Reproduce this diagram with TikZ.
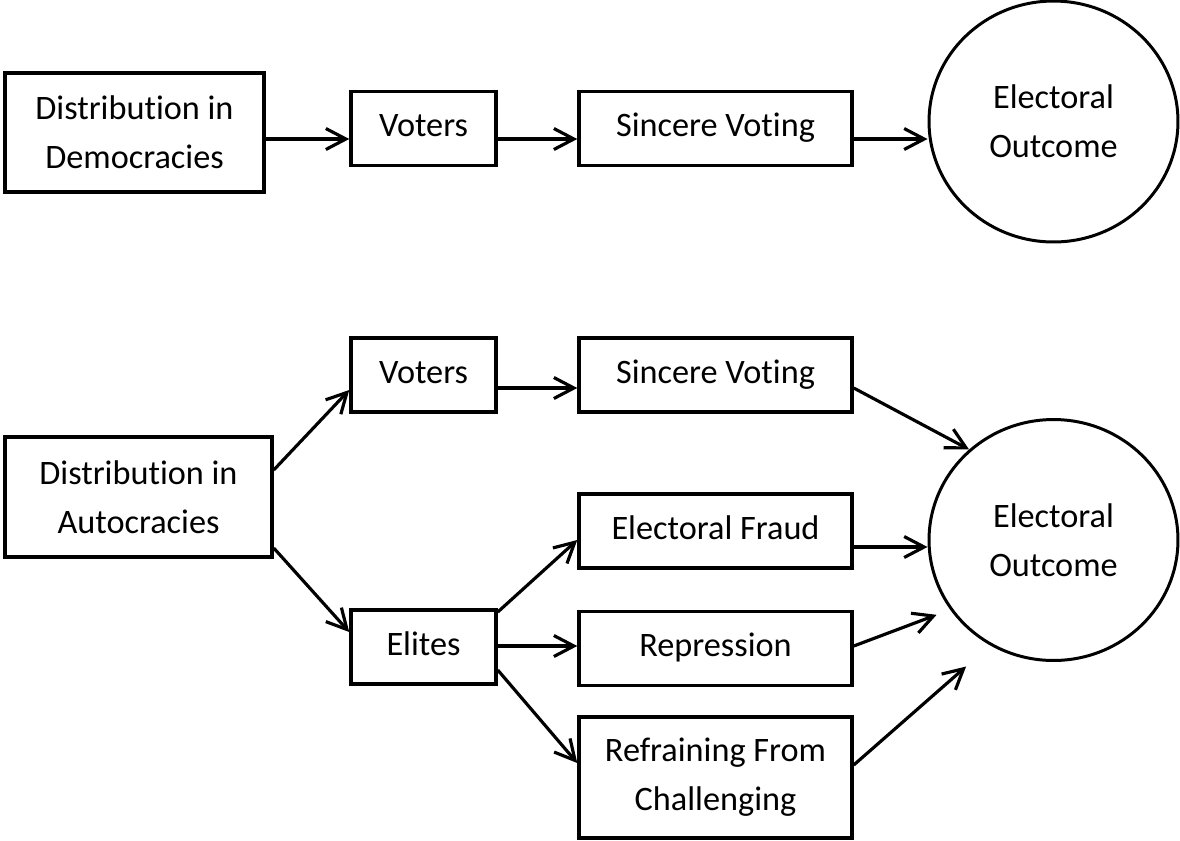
\documentclass[tikz,border=0pt]{standalone}
\usepackage{fontspec}
\setmainfont[RawFeature=-liga]{Carlito}
\usetikzlibrary{arrows.meta,shapes.geometric}

\begin{document}
\begin{tikzpicture}[x=0.02cm,y=-0.02cm,
	box/.style={draw,line width=2pt,align=center,inner sep=0pt,minimum height=1.48cm,font=\fontsize{19.5}{28}\selectfont},
	line/.style={box,text height=14.6pt,text depth=5pt},
	outcome/.style={draw,ellipse,line width=1.7pt,align=center,inner sep=0pt,minimum width=4.98cm,minimum height=4.82cm,font=\fontsize{19.5}{28}\selectfont},
	arr/.style={line width=1.8pt,-{Straight Barb[length=0.4cm,width=0.42cm]}}]
	\useasboundingbox (0,0) rectangle (1180,840);

	\node[box,minimum width=5.18cm,minimum height=2.38cm] (dem) at (134.5,132.5) {Distribution in\\Democracies};
	\node[line,minimum width=2.9cm] (vot1) at (423.5,128.5) {Voters};
	\node[line,minimum width=5.46cm] (sin1) at (715.5,128.5) {Sincere Voting};
	\node[outcome] (out1) at (1053.5,121.5) {Electoral\\Outcome};

	\node[box,minimum width=5.34cm,minimum height=2.4cm] (aut) at (138.5,497) {Distribution in\\Autocracies};
	\node[line,minimum width=2.9cm] (vot2) at (423.5,375) {Voters};
	\node[line,minimum width=5.46cm] (sin2) at (715.5,375) {Sincere Voting};
	\node[line,minimum width=2.9cm] (eli) at (423.5,647) {Elites};
	\node[line,minimum width=5.46cm] (fra) at (715.5,531) {Electoral Fraud};
	\node[line,minimum width=5.46cm] (rep) at (715.5,648.5) {Repression};
	\node[box,minimum width=5.46cm,minimum height=2.42cm] (ref) at (715.5,777.5) {Refraining From\\Challenging};
	\node[outcome] (out2) at (1053.5,540) {Electoral\\Outcome};

	\draw[arr] (dem.east |- 0,139) -- (vot1.west |- 0,139);
	\draw[arr] (vot1.east |- 0,139) -- (sin1.west |- 0,139);
	\draw[arr] (sin1.east |- 0,139) -- (out1.west |- 0,139);

	\draw[arr] (aut.east |- 0,470) -- (vot2.west |- 0,390);
	\draw[arr] (aut.east |- 0,548) -- (eli.west |- 0,632);
	\draw[arr] (vot2.east |- 0,388) -- (sin2.west |- 0,388);
	\draw[arr] (eli.east |- 0,612) -- (fra.west |- 0,540);
	\draw[arr] (eli.east |- 0,646) -- (rep.west |- 0,646);
	\draw[arr] (eli.east |- 0,670) -- (ref.west |- 0,763);
	\draw[arr] (sin2.east |- 0,388) -- (out2.133);
	\draw[arr] (fra.east |- 0,547) -- (out2.west |- 0,547);
	\draw[arr,shorten >=0.29cm] (rep.east |- 0,646) -- (out2.214);
	\draw[arr,shorten >=0.64cm] (ref.east |- 0,765) -- (out2.239);
\end{tikzpicture}
\end{document}
